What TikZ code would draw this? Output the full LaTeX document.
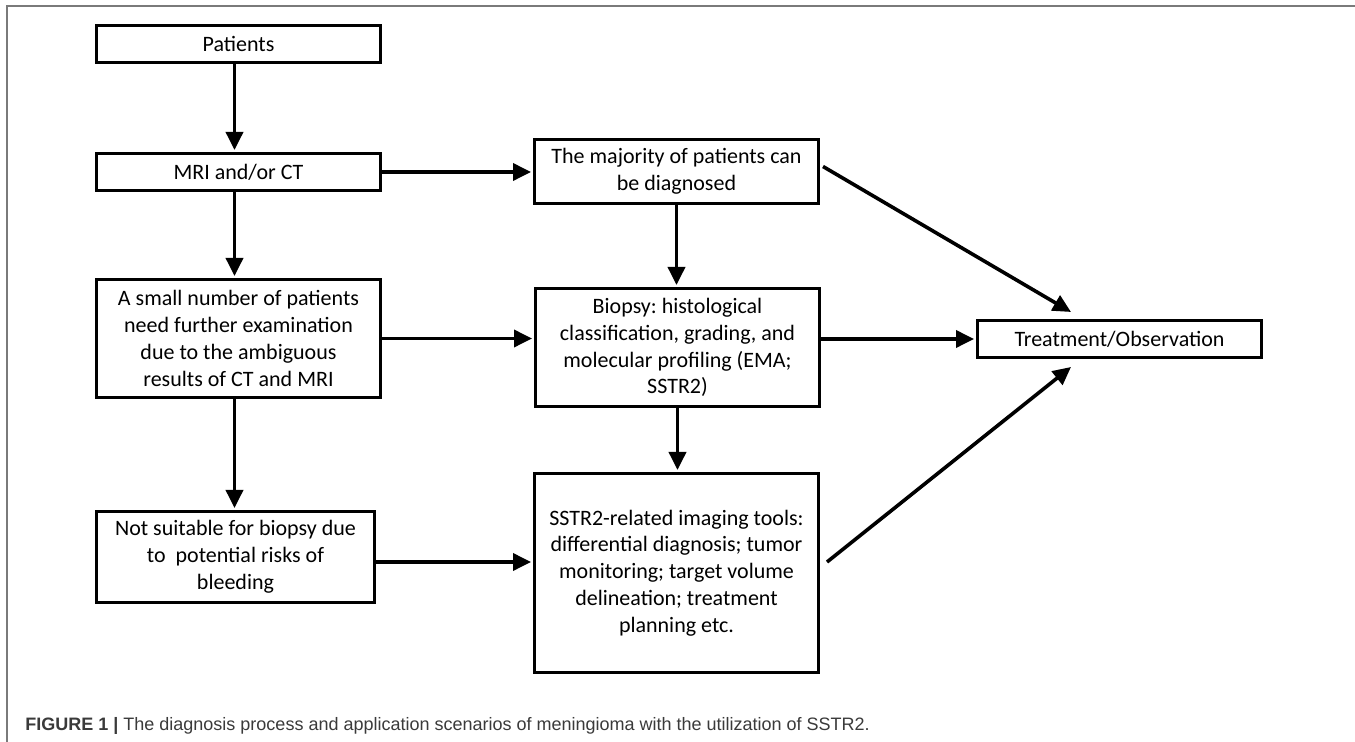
\documentclass[tikz,border=0pt]{standalone}
\usepackage{fontspec}
\setmainfont{Carlito}
\newfontfamily\capfont{Liberation Sans}
\usetikzlibrary{arrows.meta}
\frenchspacing

\definecolor{framegray}{HTML}{7A7A7A}
\definecolor{capgray}{HTML}{3A3A3A}

\tikzset{
  box/.style={draw, line width=1.5pt, align=center, inner sep=0pt,
    minimum width=142pt, font=\fontsize{11}{13.4}\selectfont},
  flow/.style={-{Triangle[length=9pt,width=8.5pt]}, line width=1.8pt, shorten >=1pt},
}

\begin{document}
\begin{tikzpicture}[x=0.5pt, y=-0.5pt]
        % Size of the figure, in pixels of the original
        \useasboundingbox (0,0) rectangle (1355,742);

        % Frame round the figure
        \draw[framegray, line width=1pt] (7,742) -- (7,6) -- (1355,6);

        % Left column
        \draw (238.5,44) node[box, minimum height=18.5pt] (patients) {Patients};
        \draw (238.5,172) node[box, minimum height=18.5pt] (mri) {MRI and/or CT};
        \draw (238.5,338.5) node[box, minimum height=59pt] (few)
          {A small number of patients\\need further examination\\due to the ambiguous\\results of CT and MRI};
        \draw (235.5,557) node[box, minimum width=139pt, minimum height=45.5pt] (nobiopsy)
          {Not suitable for biopsy due\\to\ \ potential risks of\\bleeding};

        % Middle column
        \draw (676.5,171.5) node[box, minimum height=32pt] (majority)
          {The majority of patients can\\be diagnosed};
        \draw (677.5,347.5) node[box, minimum height=59pt] (biopsy)
          {Biopsy: histological\\classification, grading, and\\molecular profiling (EMA;\\SSTR2)};
        \draw (676.5,573) node[box, minimum height=99.5pt] (sstr)
          {SSTR2-related imaging tools:\\differential diagnosis; tumor\\monitoring; target volume\\delineation; treatment\\planning etc.};

        % Right column
        \draw (1119.5,339) node[box, minimum height=18.5pt] (treat) {Treatment/Observation};
        \coordinate (treatin1) at (1071,312);
        \coordinate (treatin2) at (1071,367);

        % Connectors
        \draw[flow] ([xshift=-2pt]patients.south) -- ([xshift=-2pt]mri.north);
        \draw[flow] ([xshift=-2pt]mri.south) -- ([xshift=-2pt]few.north);
        \draw[flow] ([xshift=-2pt]few.south) -- ([xshift=-2pt]few.south |- nobiopsy.north);
        \draw[flow] (mri.east) -- (mri.east -| majority.west);
        \draw[flow] (few.east) -- (few.east -| biopsy.west);
        \draw[flow] ([yshift=-2.5pt]nobiopsy.east) -- ([yshift=-2.5pt]nobiopsy.east -| sstr.west);
        \draw[flow] (majority.south) -- (majority.south |- biopsy.north);
        \draw[flow] (biopsy.south) -- (biopsy.south |- sstr.north);
        \draw[flow] (biopsy.east |- treat.west) -- (treat.west);
        \draw[flow, shorten >=0pt] ([shift={(1.5pt,2.5pt)}]majority.east) -- (treatin1);
        \draw[flow, shorten >=0pt] ([shift={(3.5pt,5.5pt)}]sstr.east) -- (treatin2);

        % Caption
        \draw (25,730) node[anchor=base west, inner sep=0pt, text=capgray,
          font=\capfont\fontsize{9}{11}\selectfont] (caption)
          {\textbf{FIGURE 1 |} The diagnosis process and application scenarios of meningioma with the utilization of SSTR2.};
\end{tikzpicture}
\end{document}
